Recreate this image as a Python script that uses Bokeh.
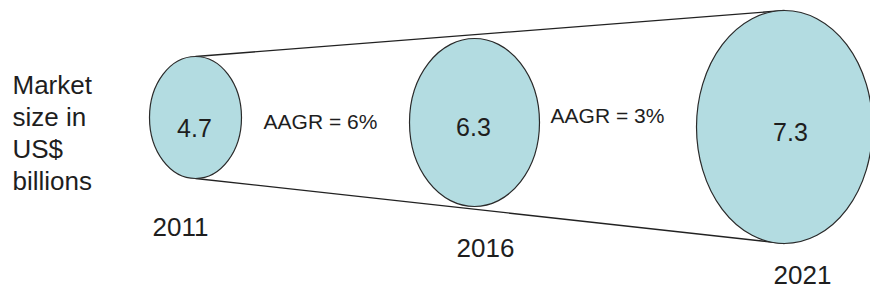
from bokeh.plotting import figure
from bokeh.models import Range1d, ColumnDataSource
from bokeh.core.properties import value
from bokeh.embed import file_html
from bokeh.resources import INLINE

# ---- data ----
years = ["2011", "2016", "2021"]
market_size = [4.7, 6.3, 7.3]
aagr_labels = ["AAGR = 6%", "AAGR = 3%"]
y_label_lines = ["Market", "size in", "US$", "billions"]

# ---- layout (pixel-space positions, kept separate from data) ----
circle_x = [195, 474, 784]
circle_y = [117, 122, 126.5]
circle_w = [92, 130, 176]
circle_h = [122, 168, 233]
value_dx = [-1, -1, 6]
value_dy = [10, 4, 5]
year_x = [180, 485, 802]
year_y = [226, 247, 274]
aagr_x = [320, 607]
aagr_y = [121, 115]
label_x = 12
label_y = [84, 116, 148, 180]

FONT = value("Liberation Sans")
TXT = "#1e1e1e"

p = figure(width=870, height=291, x_range=Range1d(0, 870), y_range=Range1d(291, 0),
           output_backend="svg", toolbar_location=None, min_border=0)
p.axis.visible = False
p.grid.visible = False
p.outline_line_color = None
p.background_fill_color = "white"

# funnel lines joining tops and bottoms of first and last circles
tops = [cy - h / 2 for cy, h in zip(circle_y, circle_h)]
bots = [cy + h / 2 for cy, h in zip(circle_y, circle_h)]
p.line([circle_x[0], circle_x[-1]], [tops[0], tops[-1]], line_color="#222222", line_width=1.3)
p.line([circle_x[0], circle_x[-1]], [bots[0], bots[-1]], line_color="#222222", line_width=1.3)

src = ColumnDataSource(dict(x=circle_x, y=circle_y, w=circle_w, h=circle_h,
                            lab=[f"{v:.1f}" for v in market_size],
                            lx=[a + b for a, b in zip(circle_x, value_dx)],
                            ly=[a + b for a, b in zip(circle_y, value_dy)],
                            year=years, yx=year_x, yy=year_y))
p.ellipse(x="x", y="y", width="w", height="h", source=src,
          fill_color="#b3dce1", line_color="#2a2a2a", line_width=1.2)

p.text(x="lx", y="ly", text="lab", source=src, text_align="center", text_baseline="middle",
       text_font=FONT, text_font_size="25px", text_color=TXT)
p.text(x="yx", y="yy", text="year", source=src, text_align="center", text_baseline="middle",
       text_font=FONT, text_font_size="26px", text_color=TXT)

p.text(x=aagr_x, y=aagr_y, text=aagr_labels, text_align="center", text_baseline="middle",
       text_font=FONT, text_font_size="21px", text_color=TXT)

p.text(x=[label_x] * len(y_label_lines), y=label_y, text=y_label_lines,
       text_align="left", text_baseline="middle",
       text_font=FONT, text_font_size="26px", text_color=TXT)

open("out.html", "w").write(file_html(p, INLINE))
